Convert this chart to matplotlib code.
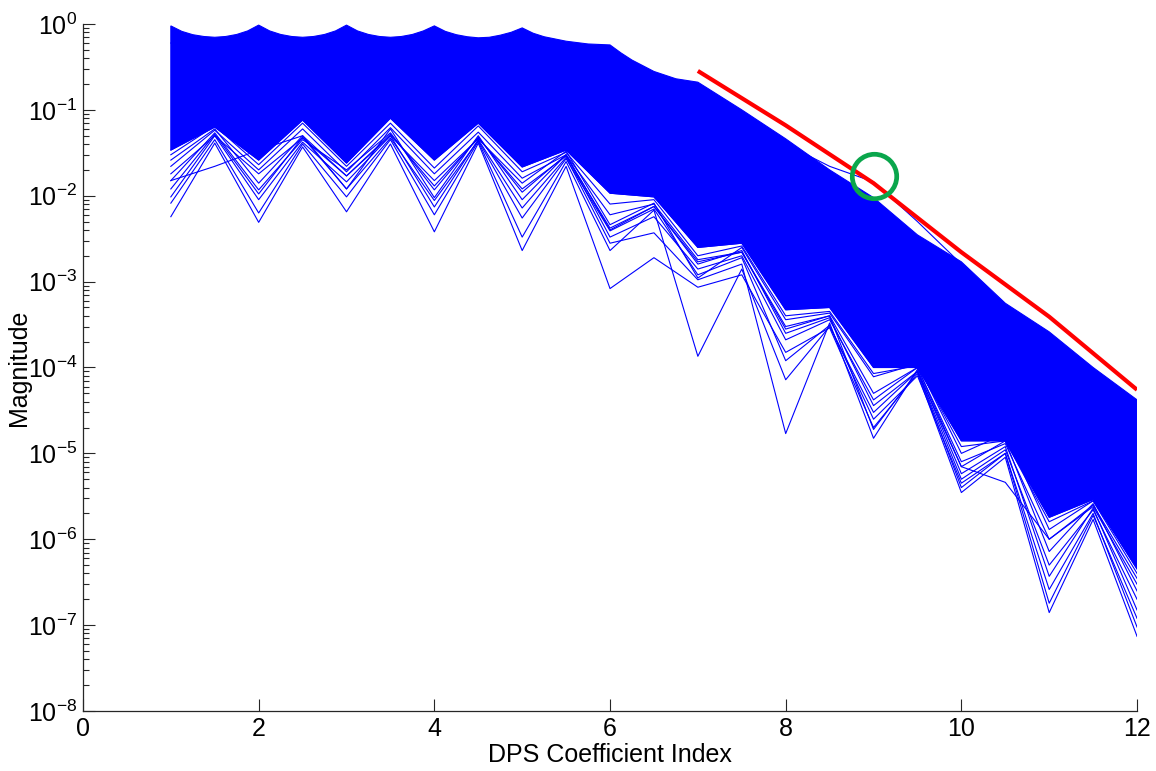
import numpy as np
import matplotlib
matplotlib.use("Agg")
import matplotlib.pyplot as plt
from matplotlib.ticker import FixedLocator, NullFormatter

plt.rcParams["font.family"] = ["Liberation Sans", "DejaVu Sans"]
plt.rcParams["mathtext.fontset"] = "custom"
plt.rcParams["mathtext.rm"] = "Liberation Sans"

# coefficient index grid used by every trace
idx = [1, 1.5, 2, 2.5, 3, 3.5, 4, 4.5, 5, 5.5, 6, 6.5, 7, 7.5, 8, 8.5, 9, 9.5, 10, 10.5, 11, 11.5, 12]

# upper edge of the dense bundle of traces (read at eighth steps where it arcs)
upper_idx = [1, 1.125, 1.25, 1.375, 1.5, 1.625, 1.75, 1.875,
             2, 2.125, 2.25, 2.375, 2.5, 2.625, 2.75, 2.875,
             3, 3.125, 3.25, 3.375, 3.5, 3.625, 3.75, 3.875,
             4, 4.125, 4.25, 4.375, 4.5, 4.625, 4.75, 4.875,
             5, 5.125, 5.25, 5.5, 5.75, 6, 6.125, 6.25, 6.5, 6.75, 7,
             7.5, 8, 8.5, 9, 9.5, 10, 10.5, 11, 11.5, 12]
upper_mag = [0.95, 0.82, 0.75, 0.715, 0.70, 0.715, 0.755, 0.83,
             0.97, 0.83, 0.755, 0.715, 0.70, 0.715, 0.755, 0.83,
             0.97, 0.83, 0.755, 0.715, 0.70, 0.715, 0.755, 0.83,
             0.95, 0.82, 0.75, 0.71, 0.69, 0.70, 0.74, 0.80,
             0.90, 0.78, 0.71, 0.63, 0.585, 0.57, 0.46, 0.38, 0.28, 0.23, 0.21,
             0.10, 0.046, 0.020, 0.0095, 0.0035, 0.0017, 5.6e-4, 2.6e-4, 1.0e-4, 4.2e-5]

# lower edge of the dense bundle
lower_mag = [0.034, 0.063, 0.026, 0.076, 0.024, 0.080, 0.026, 0.070, 0.0216, 0.034, 0.0107, 0.0097,
             0.0025, 0.0028, 4.7e-4, 5.0e-4, 1.0e-4, 1.0e-4, 1.4e-5, 1.4e-5, 1.8e-6, 2.9e-6, 4.5e-7]

# individual traces that stand out from the bundle
outliers = [
    [0.0057, 0.041, 0.0049, 0.037, 0.0065, 0.040, 0.0038, 0.041, 0.0023, 0.022, 0.00083, 0.0019,
     0.00086, 0.0012, 1.5e-4, 2.9e-4, 2.0e-5, 8.5e-5, 3.5e-6, 9.0e-6, 1.4e-7, 1.7e-6, 7.4e-8],
    [0.0082, 0.045, 0.0063, 0.040, 0.0097, 0.045, 0.0060, 0.043, 0.0033, 0.025, 0.0023, 0.0068,
     1.35e-4, 0.0014, 7.2e-5, 3.0e-4, 3.0e-5, 9.0e-5, 4.0e-6, 1.0e-5, 2.6e-7, 2.0e-6, 9.5e-8],
    [0.0097, 0.050, 0.0090, 0.042, 0.0145, 0.050, 0.0074, 0.045, 0.0072, 0.028, 0.0028, 0.0037,
     0.00105, 0.0016, 1.7e-5, 3.3e-4, 1.5e-5, 9.5e-5, 5.8e-6, 1.2e-5, 3.7e-7, 2.3e-6, 1.5e-7],
    [0.015, 0.054, 0.0117, 0.045, 0.020, 0.054, 0.0117, 0.048, 0.011, 0.030, 0.0033, 0.0057,
     0.0014, 0.0020, 2.1e-4, 3.6e-4, 4.2e-5, 1.0e-4, 7.0e-6, 1.4e-5, 7.2e-7, 2.6e-6, 2.5e-7],
    [0.015, 0.022, 0.034, 0.050, 0.017, 0.052, 0.013, 0.047, 0.012, 0.029, 0.0042, 0.0075,
     0.0017, 0.0022, 3.0e-4, 4.0e-4, 1.9e-5, 9.0e-5, 7.0e-6, 4.6e-6, 1.0e-6, 2.4e-6, 3.0e-7],
    [0.018, 0.050, 0.018, 0.047, 0.017, 0.050, 0.015, 0.046, 0.014, 0.033, 0.0046, 0.0082,
     0.0011, 0.0025, 3.6e-4, 4.3e-4, 7.8e-5, 1.1e-4, 1.0e-5, 1.7e-5, 1.3e-6, 2.8e-6, 4.8e-7],
    [0.022, 0.058, 0.020, 0.060, 0.019, 0.062, 0.018, 0.055, 0.016, 0.030, 0.0060, 0.0080,
     0.0018, 0.0022, 2.8e-4, 4.0e-4, 5.0e-5, 1.0e-4, 8.0e-6, 1.3e-5, 1.0e-6, 2.5e-6, 3.5e-7],
    [0.026, 0.060, 0.014, 0.050, 0.012, 0.060, 0.0095, 0.050, 0.0090, 0.030, 0.0040, 0.0075,
     0.0016, 0.0023, 2.5e-4, 3.8e-4, 3.6e-5, 9.0e-5, 5.0e-6, 1.1e-5, 5.0e-7, 2.2e-6, 2.0e-7],
    [0.012, 0.052, 0.0105, 0.048, 0.012, 0.047, 0.0088, 0.044, 0.0055, 0.027, 0.0039, 0.0070,
     0.0012, 0.0019, 1.2e-4, 3.1e-4, 2.5e-5, 8.0e-5, 4.5e-6, 1.0e-5, 1.8e-7, 1.9e-6, 1.2e-7],
    [0.030, 0.065, 0.023, 0.070, 0.022, 0.070, 0.021, 0.065, 0.019, 0.032, 0.0080, 0.0090,
     0.0020, 0.0026, 4.0e-4, 4.5e-4, 8.5e-5, 1.05e-4, 1.2e-5, 1.4e-5, 1.6e-6, 2.8e-6, 4.0e-7],
    [0.60, 0.50, 0.60, 0.50, 0.60, 0.50, 0.60, 0.50, 0.50, 0.40, 0.35, 0.18,
     0.16, 0.070, 0.040, 0.022, 0.0145, 0.0050, 0.0016, 5.0e-4, 2.3e-4, 9.0e-5, 3.5e-5],
]

# bound line and highlighted point
bound_idx = [7, 8, 9, 10, 11, 12]
bound_mag = [0.284, 0.066, 0.014, 0.0022, 3.9e-4, 5.5e-5]
mark_idx = [9]
mark_mag = [0.017]

x_ticks = [0, 2, 4, 6, 8, 10, 12]
y_ticks = [1e-8, 1e-7, 1e-6, 1e-5, 1e-4, 1e-3, 1e-2, 1e-1, 1e0]

fig = plt.figure(figsize=(11.56, 7.71), dpi=100)
ax = fig.add_axes([0.0718, 0.0778, 0.9118, 0.8911])

blue = "#0000FF"
poly_x = np.concatenate([upper_idx, idx[::-1]])
poly_y = np.concatenate([upper_mag, lower_mag[::-1]])
ax.fill(poly_x, poly_y, color=blue, lw=0.8)
ax.plot(idx, lower_mag, color=blue, lw=0.8)
for trace in outliers:
    ax.plot(idx, trace, color=blue, lw=0.8)

ax.plot(bound_idx, bound_mag, color="#FF0000", lw=3.0, solid_capstyle="butt")
ax.plot(mark_idx, mark_mag, "o", ms=32, mfc="none", mec="#0AA64C", mew=3.4)

ax.set_yscale("log")
ax.set_xlim(0, 12)
ax.set_ylim(1e-8, 1)
ax.set_xticks(x_ticks)
ax.set_yticks(y_ticks)
minor = [m * d for d in y_ticks[:-1] for m in range(2, 10)]
ax.yaxis.set_minor_locator(FixedLocator(minor))
ax.yaxis.set_minor_formatter(NullFormatter())

for side in ["top", "right"]:
    ax.spines[side].set_visible(False)
for side in ["left", "bottom"]:
    ax.spines[side].set_color("#262626")
    ax.spines[side].set_linewidth(0.9)

ax.tick_params(axis="both", which="both", direction="in", colors="#262626", labelcolor="black")
ax.tick_params(axis="both", which="major", length=8.5, width=0.8, labelsize=18, pad=4)
ax.tick_params(axis="y", which="minor", length=4.3, width=0.8)
ax.tick_params(axis="x", which="minor", bottom=False)

ax.set_xlabel("DPS Coefficient Index", fontsize=18, labelpad=2)
ax.set_ylabel("Magnitude", fontsize=18)
ax.yaxis.set_label_coords(-0.049, 0.5)

fig.savefig("out.png", dpi=100)
